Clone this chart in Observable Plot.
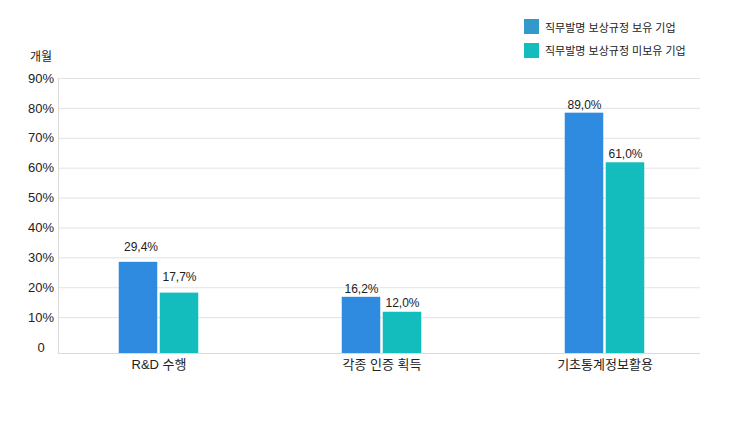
<!DOCTYPE html>
<html>
<head>
<meta charset="utf-8">
<script src="https://cdn.jsdelivr.net/npm/d3@7"></script>
<script src="https://cdn.jsdelivr.net/npm/@observablehq/plot@0.6"></script>
<style>
  html, body { margin: 0; padding: 0; background: #fff; }
  #wrap { position: relative; width: 740px; height: 440px; }
  #legend { position: absolute; left: 524px; top: 19px; font-family: "Liberation Sans", "Noto Sans CJK KR", sans-serif; font-size: 11px; color: #222; }
  .item { display: flex; align-items: center; height: 15px; margin-bottom: 8.7px; white-space: nowrap; }
  .sw { width: 15px; height: 15px; margin-right: 6px; flex: none; }
</style>
</head>
<body>
<div id="wrap"><div id="legend"></div></div>
<script>
// ---- data ----
const categories = ["R&D 수행", "각종 인증 획득", "기초통계정보활용"];
const seriesNames = ["직무발명 보상규정 보유 기업", "직무발명 보상규정 미보유 기업"];
// bar heights as drawn in the picture (%)
const haveValues = [28.5, 16.8, 78.4];
const notValues = [18.2, 11.8, 61.8];
// value labels as printed
const haveLabels = ["29,4%", "16,2%", "89,0%"];
const notLabels = ["17,7%", "12,0%", "61,0%"];
// y axis
const yTickValues = [0, 10, 20, 30, 40, 50, 60, 70, 80, 90];
const yTickLabels = ["0", "10%", "20%", "30%", "40%", "50%", "60%", "70%", "80%", "90%"];
const gridValues = [10, 20, 30, 40, 50, 60, 70, 80, 90];
const yFloor = -2;
const unitLabel = "개월";

// ---- style ----
const barColors = ["#2e8be0", "#13bdbd"];
const legendColors = ["#3399cc", "#13bdbd"];
const font = '"Liberation Sans", "Noto Sans CJK KR", sans-serif';

const rows = categories.map((c, i) => ({
  category: c, have: haveValues[i], not: notValues[i],
  haveLabel: haveLabels[i], notLabel: notLabels[i], first: i === 0
}));

const chart = Plot.plot({
  width: 740,
  height: 440,
  marginTop: 78,
  marginBottom: 87,
  marginLeft: 58,
  marginRight: 40,
  style: { fontFamily: font, fontSize: "13px", color: "#222", background: "white" },
  x: { domain: categories, range: [45.75, 716.25], padding: 0, axis: null },
  y: { domain: [yFloor, 90], axis: null },
  marks: [
    Plot.ruleY(gridValues, { stroke: "#e3e3e3" }),
    Plot.ruleY([yFloor], { stroke: "#dadada" }),
    Plot.frame({ anchor: "left", stroke: "#dadada" }),
    Plot.barY(rows, { x: "category", y1: () => yFloor, y2: "have", fill: barColors[0], insetLeft: 71.75, insetRight: 112.75 }),
    Plot.barY(rows, { x: "category", y1: () => yFloor, y2: "not", fill: barColors[1], insetLeft: 112.75, insetRight: 71.75 }),
    Plot.text(rows, { filter: d => d.first, x: "category", y: "have", text: "haveLabel", dx: -18, dy: -15.5, fontSize: 12, fill: "#222" }),
    Plot.text(rows, { filter: d => !d.first, x: "category", y: "have", text: "haveLabel", dx: -20.5, dy: -8.5, fontSize: 12, fill: "#222" }),
    Plot.text(rows, { filter: d => d.first, x: "category", y: "not", text: "notLabel", dx: 20.5, dy: -15.5, fontSize: 12, fill: "#222" }),
    Plot.text(rows, { filter: d => !d.first, x: "category", y: "not", text: "notLabel", dx: 20.5, dy: -9, fontSize: 12, fill: "#222" }),
    Plot.text(categories, { x: d => d, text: d => d, frameAnchor: "bottom", dy: 15, fontSize: 13, fill: "#222" }),
    Plot.text(yTickValues, { y: d => d, text: (d, i) => yTickLabels[i], frameAnchor: "left", dx: -17.5, textAnchor: "middle", fontSize: 13, fill: "#222" }),
    Plot.text([unitLabel], { frameAnchor: "top-left", dx: -17.5, dy: -26, textAnchor: "middle", fontSize: 12, fill: "#222" })
  ]
});

const wrap = document.getElementById("wrap");
wrap.insertBefore(chart, wrap.firstChild);

const legend = document.getElementById("legend");
seriesNames.forEach((name, i) => {
  const item = document.createElement("div");
  item.className = "item";
  const sw = document.createElement("span");
  sw.className = "sw";
  sw.style.background = legendColors[i];
  const label = document.createElement("span");
  label.textContent = name;
  item.appendChild(sw);
  item.appendChild(label);
  legend.appendChild(item);
});
</script>
</body>
</html>
